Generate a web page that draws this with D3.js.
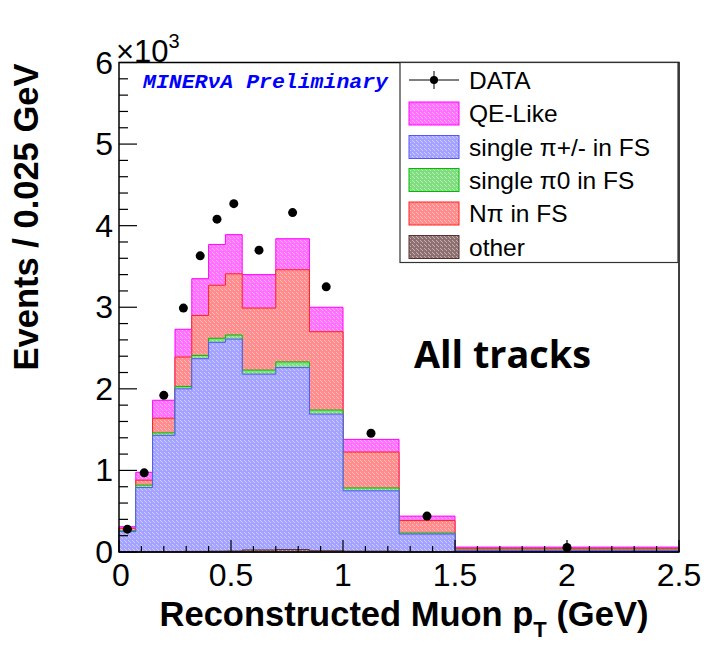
<!DOCTYPE html>
<html><head><meta charset="utf-8">
<script src="https://cdn.jsdelivr.net/npm/d3@7"></script>
<style>body{margin:0;background:#fff}svg{display:block}</style>
</head><body>
<svg id="c" width="704" height="646"></svg>
<script>
// ---- data (events / 0.025 GeV) ----
const binEdges = [0, 0.075, 0.15, 0.25, 0.325, 0.4, 0.475, 0.55, 0.7, 0.85, 1.0, 1.25, 1.5, 2.5];
const other   = [2, 3, 5, 7, 8, 10, 12, 25, 30, 15, 10, 3, 1];
const singlePiPM = [248, 787, 1425, 1993, 2362, 2560, 2598, 2155, 2230, 1675, 740, 217, 19];
const singlePi0  = [10, 30, 30, 30, 40, 50, 50, 50, 70, 50, 35, 13, 5];
const nPi        = [30, 60, 180, 360, 490, 650, 750, 760, 1130, 960, 440, 152, 20];
const qeLike     = [20, 97, 220, 340, 450, 500, 480, 410, 380, 300, 155, 55, 15];
const dataVals   = [280, 970, 1920, 2990, 3630, 4080, 4270, 3700, 4160, 3250, 1455, 440, 55];
const xTicks = [0, 0.5, 1, 1.5, 2, 2.5];
const xTickLabels = ["0", "0.5", "1", "1.5", "2", "2.5"];
const yTicks = [0, 1000, 2000, 3000, 4000, 5000, 6000];
const yTickLabels = ["0", "1", "2", "3", "4", "5", "6"];
const seriesNames = ["other", "single \u03c0+/- in FS", "single \u03c00 in FS", "N\u03c0 in FS", "QE-Like"];

const svg = d3.select("#c");
const L = 119, R = 679, T = 62.5, B = 552;
const x = d3.scaleLinear().domain([0, 2.5]).range([L, R]);
const y = d3.scaleLinear().domain([0, 6000]).range([B, T]);

// styles
const styles = {
  "other": {base: "#8f7070", dot: "#c8b4b4", line: "#5a3030"},
  "single \u03c0+/- in FS": {base: "#a3a3ff", dot: "#cfcfff", line: "#5555ff"},
  "single \u03c00 in FS": {base: "#7fdc7f", dot: "#b8f0b8", line: "#00bb00"},
  "N\u03c0 in FS": {base: "#ff8c8c", dot: "#ffbcbc", line: "#ff2020"},
  "QE-Like": {base: "#ff70ff", dot: "#ffb0ff", line: "#ff00ff"}
};
const defs = svg.append("defs");
seriesNames.forEach((n, i) => {
  const p = defs.append("pattern").attr("id", "p" + i).attr("patternUnits", "userSpaceOnUse")
    .attr("width", 4).attr("height", 4);
  p.append("rect").attr("width", 4).attr("height", 4).attr("fill", styles[n].base);
  p.append("rect").attr("x", 0).attr("y", 0).attr("width", 1).attr("height", 1).attr("fill", styles[n].dot);
  p.append("rect").attr("x", 2).attr("y", 2).attr("width", 1).attr("height", 1).attr("fill", styles[n].dot);
  p.append("rect").attr("x", 1).attr("y", 1).attr("width", 1).attr("height", 1).attr("fill", styles[n].dot);
});

// stack
const rows = binEdges.slice(0, -1).map((e, i) => ({
  x0: e, x1: binEdges[i + 1],
  [seriesNames[0]]: other[i], [seriesNames[1]]: singlePiPM[i], [seriesNames[2]]: singlePi0[i],
  [seriesNames[3]]: nPi[i], [seriesNames[4]]: qeLike[i]
}));
const stacked = d3.stack().keys(seriesNames)(rows);

function stepPts(layer) {
  const pts = [];
  layer.forEach(d => { pts.push([d.data.x0, d[1]]); pts.push([d.data.x1, d[1]]); });
  return pts;
}
const area = d3.area().x(d => x(d[0])).y0(y(0)).y1(d => y(d[1]));
const gH = svg.append("g");
for (let i = stacked.length - 1; i >= 0; i--) {
  const pts = stepPts(stacked[i]);
  gH.append("path").attr("d", area(pts)).attr("fill", `url(#p${i})`)
    .attr("stroke", styles[seriesNames[i]].line).attr("stroke-width", 1);
}

// frame
svg.append("rect").attr("x", L).attr("y", T).attr("width", R - L).attr("height", B - T)
  .attr("fill", "none").attr("stroke", "#000").attr("stroke-width", 1.5);

const FONT = "Liberation Sans, Arial, Helvetica, sans-serif";
// y ticks
const gY = svg.append("g");
d3.range(0, 6001, 200).forEach(v => {
  const major = v % 1000 === 0;
  gY.append("line").attr("x1", L).attr("x2", L + (major ? 18 : 9))
    .attr("y1", y(v)).attr("y2", y(v)).attr("stroke", "#000").attr("stroke-width", 1.2);
});
yTicks.forEach((v, i) => {
  gY.append("text").attr("x", 113).attr("y", y(v) + 11).attr("text-anchor", "end")
    .attr("font-family", FONT).attr("font-size", 32).text(yTickLabels[i]);
});
// x ticks
const gX = svg.append("g");
d3.range(0, 26).forEach(k => {
  const v = k / 10;
  const major = k % 5 === 0;
  gX.append("line").attr("x1", x(v)).attr("x2", x(v)).attr("y1", B).attr("y2", B - (major ? 12 : 6))
    .attr("stroke", "#000").attr("stroke-width", 1.2);
});
xTicks.forEach((v, i) => {
  gX.append("text").attr("x", x(v) + (i === 0 ? 2 : 0)).attr("y", 586).attr("text-anchor", "middle")
    .attr("font-family", FONT).attr("font-size", 32).text(xTickLabels[i]);
});

// x10^3
const ex = svg.append("text").attr("x", 116).attr("y", 62)
  .attr("font-family", FONT).attr("font-size", 31);
ex.append("tspan").text("\u00d710");
ex.append("tspan").attr("font-size", 20).attr("dy", -14).text("3");

// axis titles
const xt = svg.append("text").attr("x", 404).attr("y", 626).attr("text-anchor", "middle")
  .attr("font-family", FONT).attr("font-weight", "bold").attr("font-size", 34.5);
xt.append("tspan").text("Reconstructed Muon p");
xt.append("tspan").attr("font-size", 22).attr("dy", 11).text("T");
xt.append("tspan").attr("dy", -11).text(" (GeV)");

svg.append("text").attr("transform", "translate(38,217) rotate(-90)").attr("text-anchor", "middle")
  .attr("font-family", FONT).attr("font-weight", "bold").attr("font-size", 34.5)
  .text("Events / 0.025 GeV");

// data points
const centers = binEdges.slice(0, -1).map((e, i) => (e + binEdges[i + 1]) / 2);
svg.append("g").selectAll("circle").data(dataVals).join("circle")
  .attr("cx", (d, i) => x(centers[i])).attr("cy", d => y(d)).attr("r", 4.5).attr("fill", "#000");

// MINERvA label
svg.append("text").attr("x", 143).attr("y", 88)
  .attr("font-family", "Liberation Mono, Courier New, monospace").attr("font-weight", "bold")
  .attr("font-style", "italic").attr("font-size", 21).attr("fill", "#0000ff")
  .attr("textLength", 245).attr("lengthAdjust", "spacingAndGlyphs")
  .text("MINER\u03bdA Preliminary");

// All tracks
svg.append("text").attr("x", 414).attr("y", 368)
  .attr("font-family", "Open Sans, Lato, sans-serif").attr("font-weight", "bold").attr("font-size", 37)
  .attr("textLength", 177).attr("lengthAdjust", "spacingAndGlyphs")
  .text("All tracks");

// legend
const lg = svg.append("g");
lg.append("rect").attr("x", 400).attr("y", T).attr("width", 278).attr("height", 200)
  .attr("fill", "#fff").attr("stroke", "#333").attr("stroke-width", 1.2);
const legY = [80, 113.5, 147, 180, 213.5, 247];
const legendItems = ["DATA", "QE-Like", seriesNames[1], seriesNames[2], seriesNames[3], "other"];
const legIdx = [null, 4, 1, 2, 3, 0];
legendItems.forEach((name, k) => {
  const cy = legY[k];
  if (k === 0) {
    lg.append("line").attr("x1", 409).attr("x2", 459).attr("y1", cy).attr("y2", cy).attr("stroke", "#000");
    lg.append("line").attr("x1", 434).attr("x2", 434).attr("y1", cy - 9).attr("y2", cy + 9).attr("stroke", "#000");
    lg.append("circle").attr("cx", 434).attr("cy", cy).attr("r", 4).attr("fill", "#000");
  } else {
    const i = legIdx[k];
    lg.append("rect").attr("x", 409).attr("y", cy - 11.5).attr("width", 50).attr("height", 23)
      .attr("fill", `url(#p${i})`).attr("stroke", styles[seriesNames[i]].line).attr("stroke-width", 1);
  }
  lg.append("text").attr("x", 469).attr("y", cy + 8.5)
    .attr("font-family", FONT).attr("font-size", 24.5).text(name);
});
</script>
</body></html>
